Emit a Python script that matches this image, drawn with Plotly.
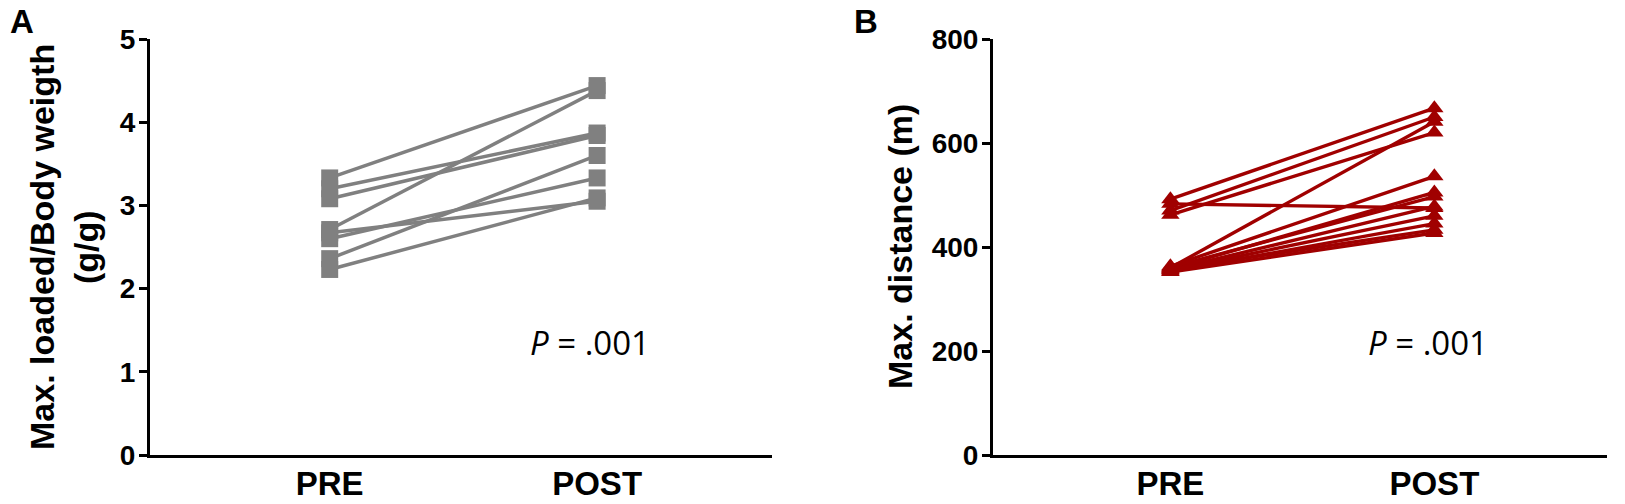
import plotly.graph_objects as go

W, H = 1625, 504

# ---- data ----
conditions = ["PRE", "POST"]
# Panel A: Max. loaded / body weight (g/g), one pair per subject
a_pre = [3.33, 3.20, 3.08, 2.71, 2.67, 2.60, 2.36, 2.23]
a_post = [4.44, 3.87, 3.84, 4.38, 3.05, 3.33, 3.60, 3.09]
# Panel B: Max. distance (m)
b_pre = [492, 483, 470, 462, 360, 363, 358, 361, 356, 355, 353, 357, 352]
b_post = [667, 475, 650, 620, 641, 536, 505, 497, 478, 460, 445, 433, 427]

a_ticks = [0, 1, 2, 3, 4, 5]
b_ticks = [0, 200, 400, 600, 800]

GRAY = "#808080"
RED = "#A00000"
ARIAL = "Liberation Sans, Arial, sans-serif"
CAL = "Open Sans, Carlito, Calibri, sans-serif"

fig = go.Figure()

for p, q in zip(a_pre, a_post):
    fig.add_trace(go.Scatter(
        x=[0, 1], y=[p, q], mode="lines+markers", xaxis="x", yaxis="y",
        line=dict(color=GRAY, width=3.5),
        marker=dict(symbol="square", size=17, color=GRAY),
        showlegend=False, hoverinfo="skip"))

for p, q in zip(b_pre, b_post):
    fig.add_trace(go.Scatter(
        x=[0, 1], y=[p, q], mode="lines+markers", xaxis="x2", yaxis="y2",
        line=dict(color=RED, width=3.4),
        marker=dict(symbol="triangle-up", size=16, color=RED),
        showlegend=False, hoverinfo="skip"))

def px_x(v):
    return v / W

def px_y(v):
    return 1 - v / H

ydom = [px_y(455), px_y(39)]
xrng = [-0.672, 1.654]

xcommon = dict(range=xrng, tickvals=[0, 1], ticktext=conditions,
               showline=True, linecolor="black", linewidth=3,
               ticks="", showgrid=False, zeroline=False, automargin=False,
               ticklabelstandoff=-3,
               tickfont=dict(family=ARIAL, size=33, color="black", weight="bold"))
ycommon = dict(showline=True, linecolor="black", linewidth=3,
               ticks="outside", ticklen=8, tickwidth=3, tickcolor="black",
               showgrid=False, zeroline=False, domain=ydom, automargin=False,
               ticklabelstandoff=-2,
               tickfont=dict(family=ARIAL, size=28, color="black", weight="bold"))

fig.update_layout(
    width=W, height=H,
    margin=dict(l=0, r=0, t=0, b=0, pad=0),
    paper_bgcolor="white", plot_bgcolor="white",
    xaxis=dict(domain=[px_x(150), px_x(772)], anchor="y", **xcommon),
    xaxis2=dict(domain=[px_x(993), px_x(1607)], anchor="y2", **xcommon),
    yaxis=dict(range=[0, 5], tickvals=a_ticks, anchor="x", **ycommon),
    yaxis2=dict(range=[0, 800], tickvals=b_ticks, anchor="x2", **ycommon),
)

ann = []
def add(text, x, y, size, family, bold=True, angle=0):
    ann.append(dict(text=text, x=px_x(x), y=px_y(y), xref="paper", yref="paper",
                    showarrow=False, textangle=angle, xanchor="center", yanchor="middle",
                    font=dict(family=family, size=size, color="black",
                              weight="bold" if bold else "normal")))

ptext = "<i>P</i> = .001"
add("A", 22, 22, 33, ARIAL)
add("B", 866, 22, 33, ARIAL)
add("Max. loaded/Body weigth", 42, 247, 34, ARIAL, angle=-90)
add("(g/g)", 86, 247, 34, ARIAL, angle=-90)
add("Max. distance (m)", 900, 247, 34, ARIAL, angle=-90)
add(ptext, 590, 342, 33, CAL, bold=False)
add(ptext, 1428, 342, 33, CAL, bold=False)
fig.update_layout(annotations=ann)

fig.write_html("out.html", config={"displayModeBar": False},
               post_script="document.body.style.margin='0px';document.body.style.overflow='hidden';")
